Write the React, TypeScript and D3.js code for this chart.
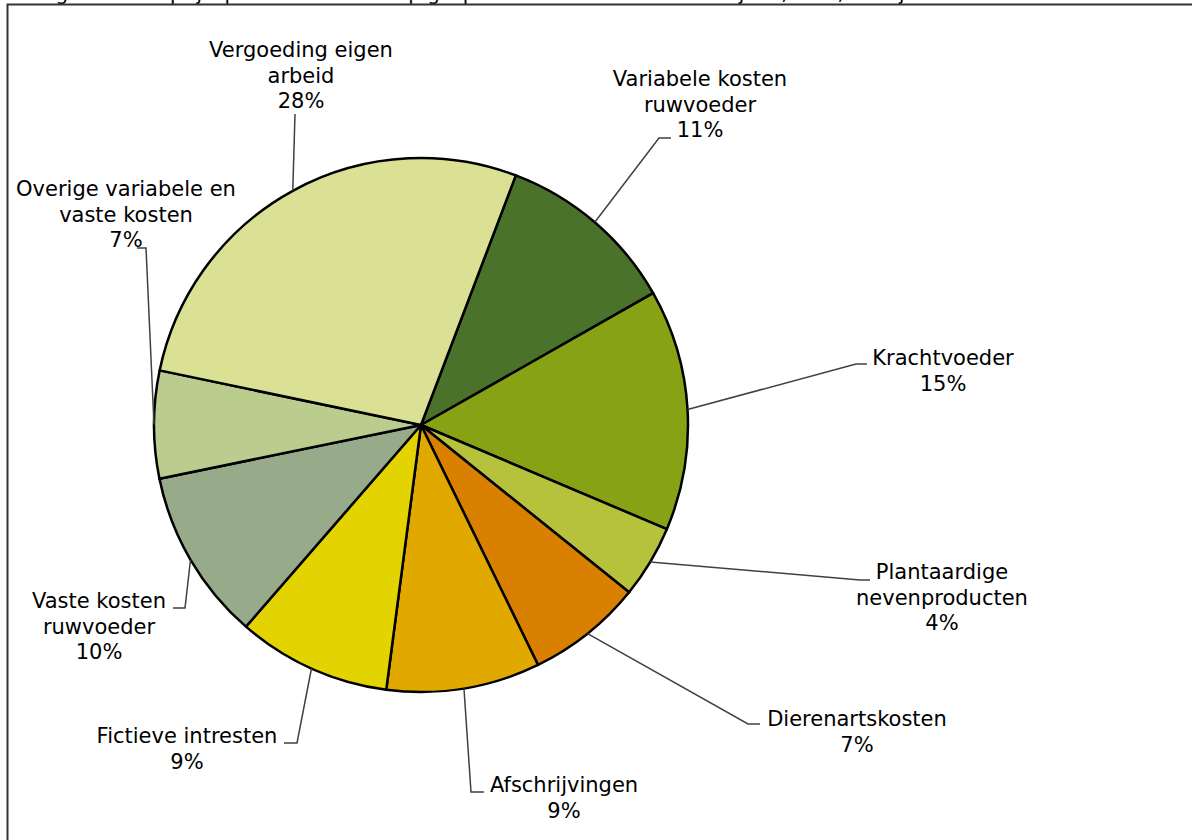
import * as d3 from "d3";
import React from "react";

// slice order follows the chart, clockwise from the top-right
const categories = [
  "Variabele kosten ruwvoeder",
  "Krachtvoeder",
  "Plantaardige nevenproducten",
  "Dierenartskosten",
  "Afschrijvingen",
  "Fictieve intresten",
  "Vaste kosten ruwvoeder",
  "Overige variabele en vaste kosten",
  "Vergoeding eigen arbeid",
];
const shares = [11.0, 14.6, 4.4, 7.0, 9.3, 9.3, 10.4, 6.5, 27.5];
const labelLines = [
  ["Variabele kosten", "ruwvoeder"],
  ["Krachtvoeder"],
  ["Plantaardige", "nevenproducten"],
  ["Dierenartskosten"],
  ["Afschrijvingen"],
  ["Fictieve intresten"],
  ["Vaste kosten", "ruwvoeder"],
  ["Overige variabele en", "vaste kosten"],
  ["Vergoeding eigen", "arbeid"],
];
const colors = [
  "#4B722B",
  "#87A214",
  "#B6C13C",
  "#D98000",
  "#E1A900",
  "#E3D300",
  "#97AB8A",
  "#BACC8E",
  "#DAE194",
];

// label placement (text centre, first baseline, leader elbow, leader end)
const labelLayout = [
  { x: 700, y: 86, elbow: [659, 138], end: [671, 138] },
  { x: 943, y: 365, elbow: [856, 364], end: [867, 364] },
  { x: 942, y: 579, elbow: [860, 580], end: [870, 580] },
  { x: 857, y: 726, elbow: [748, 724], end: [760, 724] },
  { x: 564, y: 792, elbow: [471, 792], end: [484, 792] },
  { x: 187, y: 743, elbow: [297, 743], end: [284, 743] },
  { x: 99, y: 608, elbow: [185, 608], end: [173, 608] },
  { x: 126, y: 196, elbow: [146, 248], end: [137, 248] },
  { x: 301, y: 57, elbow: [295, 114], end: null as number[] | null },
];

const width = 1192;
const height = 840;
const cx = 421;
const cy = 425;
const radius = 267;
const startDeg = 20.8;
const lineHeight = 25.5;
const font = "'DejaVu Sans', Verdana, sans-serif";

export default function App() {
  const start = (startDeg * Math.PI) / 180;
  const pie = d3
    .pie<number>()
    .sort(null)
    .value((d) => d)
    .startAngle(start)
    .endAngle(start + 2 * Math.PI);
  const arcs = pie(shares);
  const arc = d3.arc<d3.PieArcDatum<number>>().innerRadius(0).outerRadius(radius);
  const edge = d3.arc<d3.PieArcDatum<number>>().innerRadius(radius).outerRadius(radius);

  return (
    <svg
      width={width}
      height={height}
      style={{ position: "absolute", left: 0, top: 0, background: "#fff" }}
    >
      <text x={40} y={0} fontFamily={font} fontSize={20} fill="#000">
        Figuur 3 Kostprijsopbouw van melk op gespecialiseerde melkveebedrijven, in %, boekjaar 2010
      </text>
      <rect
        x={7.5}
        y={4.5}
        width={1300}
        height={900}
        fill="#fff"
        stroke="#333"
        strokeWidth={2}
      />

      <g transform={`translate(${cx},${cy})`}>
        {arcs.map((a, i) => (
          <path
            key={categories[i]}
            d={arc(a) ?? ""}
            fill={colors[i]}
            stroke="#000"
            strokeWidth={2.5}
            strokeLinejoin="round"
          />
        ))}
      </g>

      {arcs.map((a, i) => {
        const [mx, my] = edge.centroid(a);
        const lay = labelLayout[i];
        const pts: number[][] = [[cx + mx, cy + my], lay.elbow];
        if (lay.end) pts.push(lay.end);
        const lines = [...labelLines[i], `${Math.round(shares[i])}%`];
        return (
          <g key={`lab-${i}`}>
            <path
              d={d3.line()(pts as [number, number][]) ?? ""}
              fill="none"
              stroke="#404040"
              strokeWidth={1.5}
            />
            <text
              x={lay.x}
              y={lay.y}
              textAnchor="middle"
              fontFamily={font}
              fontSize={21}
              fill="#000"
            >
              {lines.map((t, j) => (
                <tspan key={j} x={lay.x} y={lay.y + j * lineHeight}>
                  {t}
                </tspan>
              ))}
            </text>
          </g>
        );
      })}
    </svg>
  );
}
